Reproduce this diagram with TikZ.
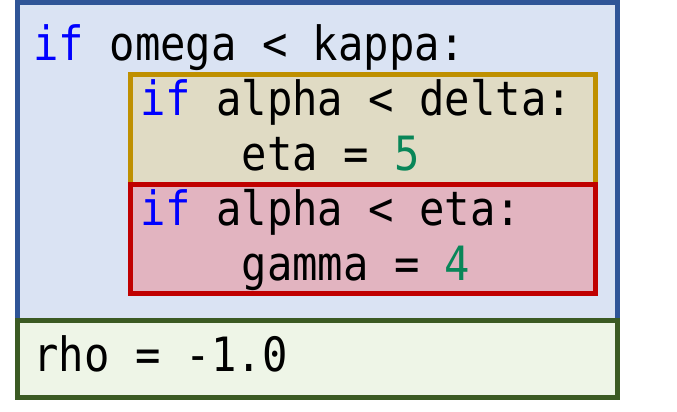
\documentclass[tikz,border=0pt]{standalone}
\usepackage{fontspec}
\usepackage{graphicx}
\newfontfamily\codefont{DejaVu Sans Mono}
\definecolor{outerfill}{HTML}{DAE3F3}
\definecolor{outerdraw}{HTML}{2F5597}
\definecolor{orfill}{HTML}{E0DBC4}
\definecolor{ordraw}{HTML}{BF9000}
\definecolor{redfill}{HTML}{E2B4C0}
\definecolor{reddraw}{HTML}{C00000}
\definecolor{grfill}{HTML}{EEF5E7}
\definecolor{grdraw}{HTML}{3B5A23}
\definecolor{kwblue}{HTML}{0000FF}
\definecolor{numgreen}{HTML}{098658}
\newcommand{\kw}[1]{\textcolor{kwblue}{#1}}
\newcommand{\num}[1]{\textcolor{numgreen}{#1}}
\tikzset{
  box/.style={line width=5pt},
  codeline/.style={anchor=base west, inner sep=0pt, outer sep=0pt,
    font=\codefont\fontsize{42.2}{42.2}\selectfont},
}
\newcommand{\cl}[1]{\scalebox{1}[1.12]{#1}}
\begin{document}
\begin{tikzpicture}[x=1pt,y=-1pt]
\useasboundingbox (0,0) rectangle (677,412);
% outer blue block
\draw[box, draw=outerdraw, fill=outerfill] (17.5,2.5) rectangle (617.5,320);
% orange block
\draw[box, draw=ordraw, fill=orfill] (130.5,74.5) rectangle (595.5,184);
% red block
\draw[box, draw=reddraw, fill=redfill] (130.5,184) rectangle (595.5,293.3);
% green block
\draw[box, draw=grdraw, fill=grfill] (17.5,320.7) rectangle (617.5,397.5);
% code
\node[codeline] (l1) at (33.5,60.7) {\cl{\kw{if} omega < kappa:}};
\node[codeline] (l2) at (140,115) {\cl{\kw{if} alpha < delta:}};
\node[codeline] (l3) at (140,170) {\cl{\phantom{xxxx}eta = \num{5}}};
\node[codeline] (l4) at (140,225) {\cl{\kw{if} alpha < eta:}};
\node[codeline] (l5) at (140,280) {\cl{\phantom{xxxx}gamma = \num{4}}};
\node[codeline] (l6) at (33.5,371.7) {\cl{rho = -1.0}};
\end{tikzpicture}
\end{document}
